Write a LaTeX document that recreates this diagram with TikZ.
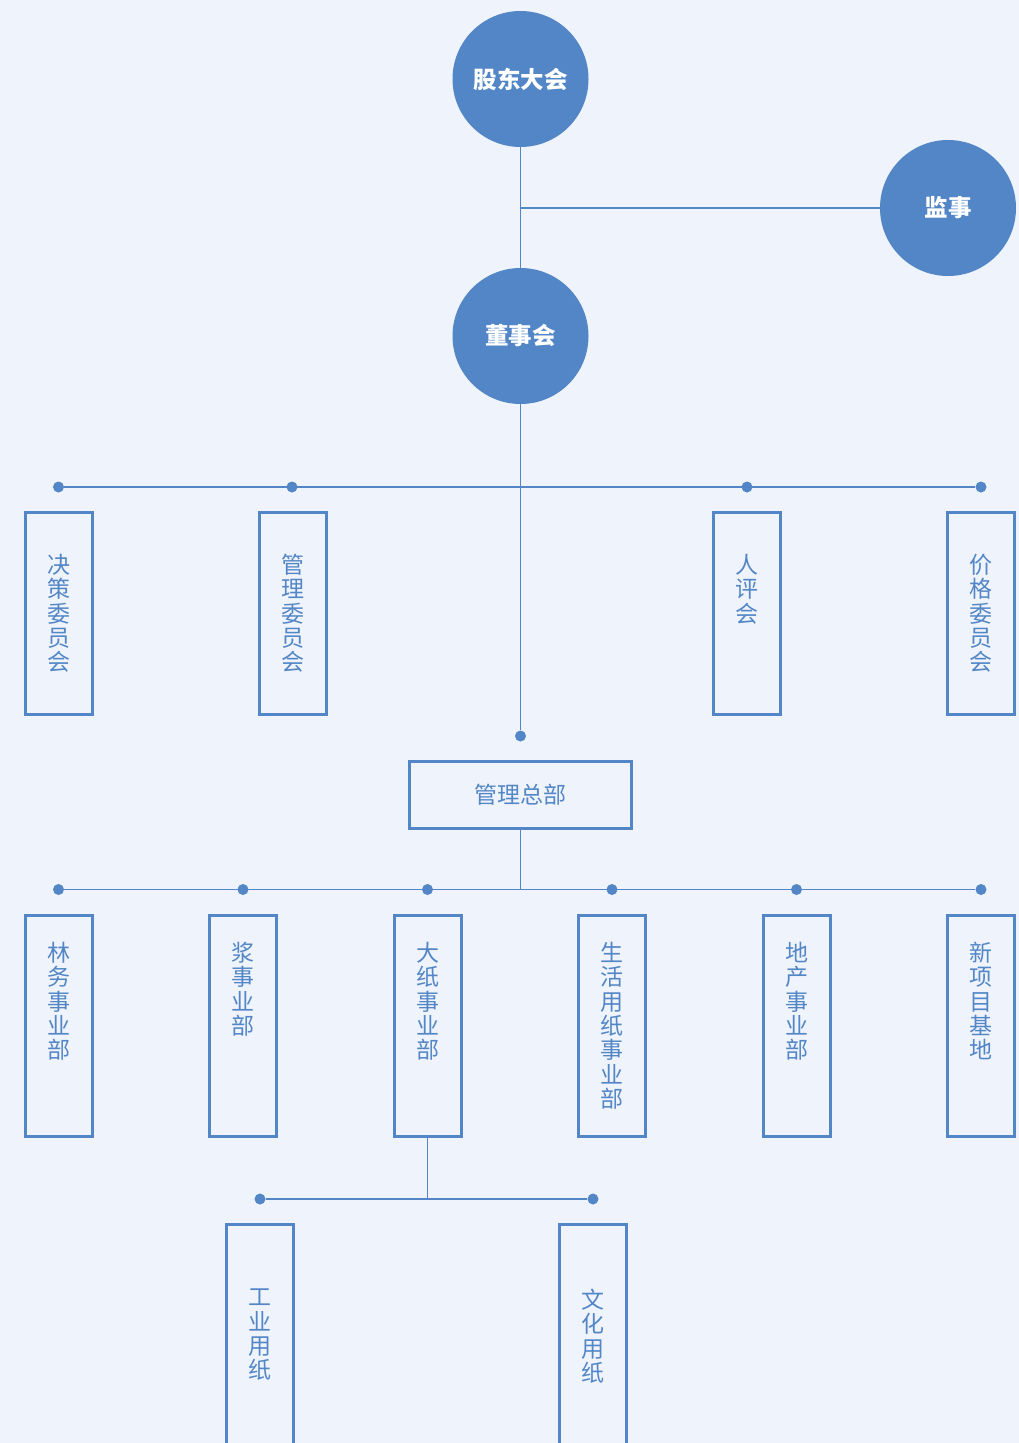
\documentclass[tikz,border=0pt]{standalone}
\usepackage{fontspec}
\newfontfamily\cjk{Noto Sans CJK SC}
\definecolor{bg}{RGB}{239,243,251}
\definecolor{blu}{RGB}{82,134,198}
\begin{document}
\begin{tikzpicture}[x=1pt,y=-1pt,
  circ/.style={circle,fill=blu,minimum size=136pt,inner sep=0pt,text=white,font=\cjk\bfseries\fontsize{23.5}{27}\selectfont},
  vbox/.style={draw=blu,line width=3pt,minimum width=67pt,inner sep=0pt},
  vt/.style={anchor=north,inner sep=0pt,align=center,text=blu,font=\cjk\fontsize{23}{24.3}\selectfont},
  dot/.style={circle,fill=blu,minimum size=11pt,inner sep=0pt},
  conn/.style={draw=blu,line width=1.4pt}]
\useasboundingbox (0,0) rectangle (1019,1443);
\clip (0,0) rectangle (1019,1443);
\fill[bg] (0,0) rectangle (1019,1443);

% circles
\node[circ] (gd) at (520.5,79) {股东大会};
\node[circ] (js) at (948,208) {监事};
\node[circ] (dsh) at (520.5,336) {董事会};

% dots
\node[dot] (p1) at (58.5,487) {};
\node[dot] (p2) at (292,487) {};
\node[dot] (p3) at (747,487) {};
\node[dot] (p4) at (981,487) {};
\node[dot] (p0) at (520.5,736) {};
\node[dot] (q1) at (58.5,889.5) {};
\node[dot] (q2) at (243,889.5) {};
\node[dot] (q3) at (427.5,889.5) {};
\node[dot] (q4) at (612,889.5) {};
\node[dot] (q5) at (796.5,889.5) {};
\node[dot] (q6) at (981,889.5) {};
\node[dot] (s1) at (260,1199) {};
\node[dot] (s2) at (593,1199) {};

% top row boxes
\node[vbox,minimum height=202pt] (b1) at (58.5,613.5) {};
\node[vbox,minimum height=202pt] (b2) at (292.5,613.5) {};
\node[vbox,minimum height=202pt] (b3) at (747,613.5) {};
\node[vbox,minimum height=202pt] (b4) at (981,613.5) {};
\node[vt] (t1) at (58.5,554) {决\\策\\委\\员\\会};
\node[vt] (t2) at (292.5,554) {管\\理\\委\\员\\会};
\node[vt] (t3) at (747,554) {人\\评\\会};
\node[vt] (t4) at (981,554) {价\\格\\委\\员\\会};

% headquarters
\node[vbox,minimum width=222pt,minimum height=67pt,text=blu,font=\cjk\fontsize{23}{25}\selectfont] (hq) at (520.5,795) {管理总部};

% second row boxes
\node[vbox,minimum height=221pt] (c1) at (58.5,1026) {};
\node[vbox,minimum height=221pt] (c2) at (243,1026) {};
\node[vbox,minimum height=221pt] (c3) at (427.5,1026) {};
\node[vbox,minimum height=221pt] (c4) at (612,1026) {};
\node[vbox,minimum height=221pt] (c5) at (796.5,1026) {};
\node[vbox,minimum height=221pt] (c6) at (981,1026) {};
\node[vt] (u1) at (58.5,942) {林\\务\\事\\业\\部};
\node[vt] (u2) at (243,942) {浆\\事\\业\\部};
\node[vt] (u3) at (427.5,942) {大\\纸\\事\\业\\部};
\node[vt] (u4) at (612,942) {生\\活\\用\\纸\\事\\业\\部};
\node[vt] (u5) at (796.5,942) {地\\产\\事\\业\\部};
\node[vt] (u6) at (981,942) {新\\项\\目\\基\\地};

% third row boxes
\node[vbox,minimum height=400pt] (d1) at (260,1424.5) {};
\node[vbox,minimum height=400pt] (d2) at (593,1424.5) {};
\node[vt] (v1) at (260,1289) {工\\业\\用\\纸};
\node[vt] (v2) at (593,1289) {文\\化\\用\\纸};

% connectors
\path[conn] (gd) -- (dsh);
\path[conn] (js) -- (js -| gd);
\path[conn] (dsh) -- (p0);
\path[conn] (p1) -- (p4);
\path[conn] (hq) -- (hq |- q1);
\path[conn] (q1) -- (q6);
\path[conn] (c3) -- (c3 |- s1);
\path[conn] (s1) -- (s2);
\end{tikzpicture}
\end{document}
